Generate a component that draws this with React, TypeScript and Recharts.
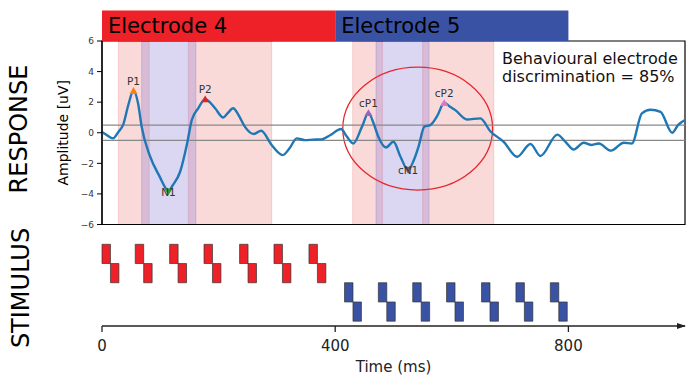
import React from 'react';
import {
  ComposedChart,
  Line,
  Scatter,
  XAxis,
  YAxis,
  ReferenceArea,
  ReferenceLine,
} from 'recharts';

// ERP trace (time in ms, amplitude in uV)
const times = [
  0, 8, 19, 28, 37, 45, 54, 62, 68, 82, 100, 108, 114, 121, 134, 146, 154, 165, 177, 186,
  194, 208, 216, 225, 235, 245, 260, 273, 291, 310, 322, 334, 348, 362, 377, 392, 410, 420,
  431, 446, 457, 466, 474, 487, 500, 512, 525, 535, 543, 553, 563, 575, 587, 597, 606, 626,
  649, 666, 689, 712, 735, 752, 781, 795, 809, 826, 840, 852, 873, 895, 909, 926, 941, 958,
  978, 988, 1000,
];
const amplitude = [
  0.05, -0.15, -0.37, 0.05, 0.6, 1.8, 2.75, 1.9, 0.4, -1.5, -2.95, -3.55, -3.85, -3.45,
  -2.55, -0.7, 0.83, 1.6, 2.2, 1.95, 1.6, 1.0, 1.3, 1.6, 1.1, 0.4, -0.08, 0.13, -0.8, -1.46,
  -1.0, -0.37, -0.48, -0.45, -0.43, -0.15, 0.25, -0.25, -0.7, 0.4, 1.3, 0.6, -0.26, -0.96,
  -0.59, -1.57, -2.44, -1.78, -0.9, 0.4, 0.5, 1.1, 1.96, 1.7, 1.48, 0.87, 0.94, 0.1, -0.59,
  -1.57, -0.74, -1.52, -0.12, -0.6, -1.1, -0.65, -0.8, -0.7, -1.17, -0.65, -0.7, 1.27, 1.5,
  1.37, 0.0, 0.5, 0.83,
];

// detected components
const peakNames = ['P1', 'N1', 'P2', 'cP1', 'cN1', 'cP2'];
const peakTimes = [54, 114, 177, 457, 525, 587];
const peakValues = [2.75, -3.85, 2.2, 1.3, -2.44, 1.96];
const peakColors = ['#ff7f0e', '#2ca02c', '#d62728', '#9467bd', '#8c564b', '#e377c2'];

// analysis windows [start, end] in ms
const positiveWindows = [
  [28, 81],
  [148, 291],
  [430, 481],
  [550, 672],
];
const negativeWindows = [
  [68, 161],
  [470, 561],
];

// electrodes
const electrodeNames = ['Electrode 4', 'Electrode 5'];
const electrodeSpans = [
  [0, 400],
  [400, 800],
];
const electrodeColors = ['#ed2127', '#3a52a3'];

// stimulus onsets (ms)
const redOnsets = [0, 57, 116, 175, 236, 295, 355];
const blueOnsets = [416, 474, 533, 591, 651, 710, 769];
const halfDuration = 14.5;

const timeTicks = [0, 400, 800];
const ampTicks = [-6, -4, -2, 0, 2, 4, 6];

const traceData = times.map((t, i) => ({ t, v: amplitude[i] }));
const peakData = peakNames.map((name, i) => ({
  name,
  t: peakTimes[i],
  v: peakValues[i],
  color: peakColors[i],
}));
const stimulusData = [
  ...redOnsets.map((t) => ({ t, color: electrodeColors[0], top: 4 })),
  ...blueOnsets.map((t) => ({ t, color: electrodeColors[1], top: 2 })),
];

const FONT = 'DejaVu Sans, sans-serif';

function PeakMarker(props: any) {
  const { cx, cy, payload } = props;
  const isMin = payload.name.includes('N');
  const s = 4;
  const tri = isMin
    ? `M${cx - s},${cy - s * 0.8} L${cx + s},${cy - s * 0.8} L${cx},${cy + s * 0.9} Z`
    : `M${cx - s},${cy + s * 0.8} L${cx + s},${cy + s * 0.8} L${cx},${cy - s * 0.9} Z`;
  return (
    <g>
      <path d={tri} fill={payload.color} />
      <text
        x={cx}
        y={isMin ? cy + 4 : cy - 6}
        textAnchor="middle"
        fontSize={10.5}
        fontFamily={FONT}
        fill="#333"
      >
        {payload.name}
      </text>
    </g>
  );
}

function EllipseShape(props: any) {
  const { x, y, width, height } = props;
  return (
    <ellipse
      cx={x + width / 2}
      cy={y + height / 2}
      rx={width / 2}
      ry={height / 2}
      fill="none"
      stroke="#e8262b"
      strokeWidth={1.3}
    />
  );
}

const fmtAmp = (v: number) => (v < 0 ? `\u2212${Math.abs(v)}` : `${v}`);

export default function App() {
  return (
    <div
      style={{
        position: 'absolute',
        left: 0,
        top: 0,
        width: 700,
        height: 382,
        background: '#fff',
        fontFamily: FONT,
      }}
    >
      <svg width={0} height={0} style={{ position: 'absolute' }}>
        <defs>
          <marker
            id="arrowHead"
            markerWidth={10}
            markerHeight={8}
            refX={8}
            refY={3}
            orient="auto"
            markerUnits="userSpaceOnUse"
          >
            <path d="M0,0 L9,3 L0,6 Z" fill="#222" />
          </marker>
        </defs>
      </svg>

      <div style={{ position: 'absolute', left: 0, top: 0 }}>
        <ComposedChart
          width={700}
          height={240}
          data={traceData}
          margin={{ top: 41, right: 15, bottom: 15.5, left: 62 }}
        >
          <XAxis dataKey="t" type="number" domain={[0, 1000]} hide />
          <YAxis
            type="number"
            domain={[-6, 6]}
            ticks={ampTicks}
            width={40}
            tickFormatter={fmtAmp}
            tick={{ fontSize: 9, fill: '#333', fontFamily: FONT }}
            tickSize={5}
            tickMargin={3}
            axisLine={{ stroke: '#000', strokeWidth: 1.2 }}
            tickLine={{ stroke: '#000', strokeWidth: 1 }}
            label={{
              value: 'Amplitude [uV]',
              angle: -90,
              position: 'insideLeft',
              offset: 1,
              fontSize: 14,
              fill: '#000',
              fontFamily: FONT,
              style: { textAnchor: 'middle' },
            }}
          />
          {positiveWindows.map(([a, b], i) => (
            <ReferenceArea
              key={`p${i}`}
              x1={a}
              x2={b}
              y1={-6}
              y2={6}
              fill="rgb(240,128,128)"
              fillOpacity={0.3}
              stroke="rgb(240,128,128)"
              strokeOpacity={0.3}
            />
          ))}
          {negativeWindows.map(([a, b], i) => (
            <ReferenceArea
              key={`n${i}`}
              x1={a}
              x2={b}
              y1={-6}
              y2={6}
              fill="rgb(115,100,210)"
              fillOpacity={0.26}
              stroke="rgb(115,100,210)"
              strokeOpacity={0.26}
            />
          ))}
          <ReferenceArea
            x1={0}
            x2={1000}
            y1={-6}
            y2={6}
            fill="none"
            stroke="#000"
            strokeWidth={1.2}
          />
          <ReferenceLine y={0.5} stroke="#888" strokeWidth={1.3} />
          <ReferenceLine y={-0.5} stroke="#888" strokeWidth={1.3} />
          <Line
            type="monotone"
            dataKey="v"
            stroke="#1f77b4"
            strokeWidth={2.4}
            dot={false}
            isAnimationActive={false}
          />
          <Scatter data={peakData} dataKey="v" shape={PeakMarker} isAnimationActive={false} />
          {electrodeNames.map((name, i) => (
            <ReferenceArea
              key={name}
              x1={electrodeSpans[i][0]}
              x2={electrodeSpans[i][1]}
              y1={6}
              y2={8}
              ifOverflow="visible"
              fill={electrodeColors[i]}
              fillOpacity={1}
              label={{
                value: name,
                position: 'insideLeft',
                offset: 6,
                fontSize: 21,
                fill: '#000',
                fontFamily: FONT,
              }}
            />
          ))}
          <ReferenceArea
            x1={413}
            x2={670}
            y1={-3.75}
            y2={4.29}
            ifOverflow="visible"
            shape={EllipseShape}
          />
        </ComposedChart>
      </div>

      <div style={{ position: 'absolute', left: 0, top: 230 }}>
        <ComposedChart
          width={700}
          height={152}
          data={stimulusData}
          margin={{ top: 14.3, right: 15, bottom: 6, left: 102 }}
        >
          <XAxis
            dataKey="t"
            type="number"
            domain={[0, 1000]}
            ticks={timeTicks}
            height={50}
            tick={{ fontSize: 15, fill: '#222', fontFamily: FONT }}
            tickSize={6}
            tickMargin={8}
            axisLine={{ stroke: '#222', strokeWidth: 1.3, markerEnd: 'url(#arrowHead)' }}
            tickLine={{ stroke: '#222', strokeWidth: 1.3 }}
            label={{
              value: 'Time (ms)',
              position: 'insideBottom',
              offset: 4,
              fontSize: 15,
              fill: '#222',
              fontFamily: FONT,
            }}
          />
          <YAxis
            dataKey="top"
            type="number"
            domain={[-0.25, 4]}
            allowDataOverflow
            width={0}
            tick={false}
            axisLine={false}
            tickLine={false}
          />
          {stimulusData.map((s, i) => (
            <ReferenceArea
              key={`u${i}`}
              x1={s.t}
              x2={s.t + halfDuration}
              y1={s.top - 1}
              y2={s.top}
              ifOverflow="visible"
              fill={s.color}
              fillOpacity={1}
              stroke="#333"
              strokeWidth={0.7}
            />
          ))}
          {stimulusData.map((s, i) => (
            <ReferenceArea
              key={`l${i}`}
              x1={s.t + halfDuration}
              x2={s.t + 2 * halfDuration}
              y1={s.top - 2}
              y2={s.top - 1}
              ifOverflow="visible"
              fill={s.color}
              fillOpacity={1}
              stroke="#333"
              strokeWidth={0.7}
            />
          ))}
        </ComposedChart>
      </div>

      <svg
        width={700}
        height={382}
        style={{ position: 'absolute', left: 0, top: 0, pointerEvents: 'none' }}
      >
        <text
          transform="translate(27,129) rotate(-90)"
          textAnchor="middle"
          fontSize={24}
          fontFamily={FONT}
          fill="#000"
        >
          RESPONSE
        </text>
        <text
          transform="translate(29,288) rotate(-90)"
          textAnchor="middle"
          fontSize={24}
          fontFamily={FONT}
          fill="#000"
        >
          STIMULUS
        </text>
        <text x={502} y={63.5} fontSize={16} fontFamily={FONT} fill="#111">
          Behavioural electrode
        </text>
        <text x={502} y={82} fontSize={16} fontFamily={FONT} fill="#111">
          discrimination = 85%
        </text>
      </svg>
    </div>
  );
}
